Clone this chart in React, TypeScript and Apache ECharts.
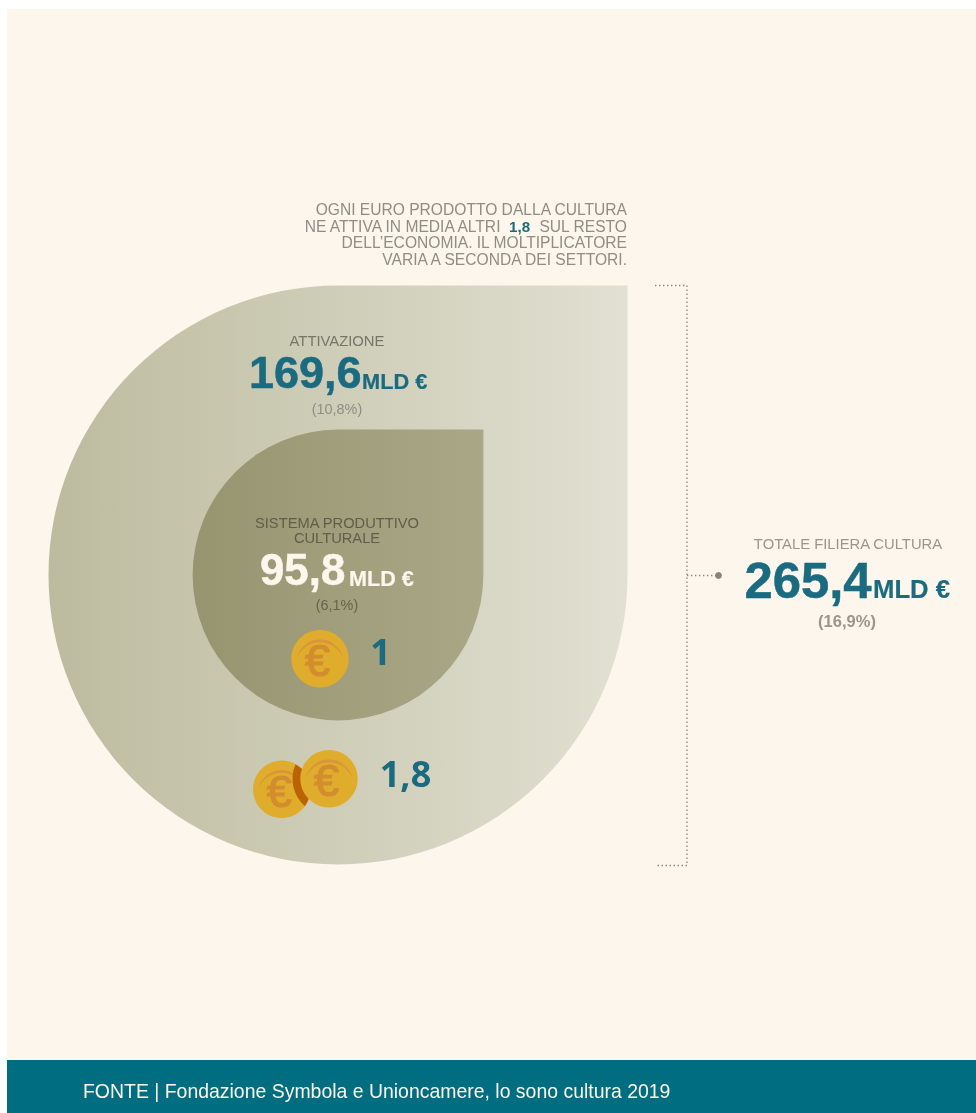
import React, { useEffect, useRef } from "react";
import * as echarts from "echarts";

const drops = ["Totale filiera cultura", "Sistema produttivo culturale"];
const dropValues = [265.4, 95.8];
const dropGradients = [["#bdbb9e", "#e1e0d2"], ["#979570", "#aaa787"]];

const attivazioneValue = "169,6";
const attivazioneShare = "(10,8%)";
const sistemaValue = "95,8";
const sistemaShare = "(6,1%)";
const totaleValue = "265,4";
const totaleShare = "(16,9%)";
const unit = "MLD €";
const multiplierOne = "1";
const multiplierTwo = "1,8";
const introLines = [
  "OGNI EURO PRODOTTO DALLA CULTURA",
  "{a|NE ATTIVA IN MEDIA ALTRI  }{b|1,8}{a|  SUL RESTO}",
  "DELL’ECONOMIA. IL MOLTIPLICATORE",
  "VARIA A SECONDA DEI SETTORI.",
];
const source = "FONTE | Fondazione Symbola e Unioncamere, lo sono cultura 2019";

const W = 976, H = 1113;
const CX = 338, CY = 575;
const TEAL = "#1a6a80";
const SANS = "'Liberation Sans', Arial, sans-serif";

// drop size scale: power scale fitted on the picture
const dropRadius = (v: number) => 289.5 * Math.pow(v / 265.4, 0.676);

const R = 28.7;
const backCoin = { x: 281.7, y: 789.3 };
const frontCoin = { x: 329, y: 778.7 };
const singleCoin = { x: 320, y: 658.7 };

function lensPath() {
  const dx = backCoin.x - frontCoin.x, dy = backCoin.y - frontCoin.y;
  const d = Math.hypot(dx, dy), ring = 36.5;
  const a = (d * d + ring * ring - R * R) / (2 * d);
  const h = Math.sqrt(ring * ring - a * a);
  const mx = frontCoin.x + (a * dx) / d, my = frontCoin.y + (a * dy) / d;
  const p1 = { x: mx - (h * dy) / d, y: my + (h * dx) / d };
  const p2 = { x: mx + (h * dy) / d, y: my - (h * dx) / d };
  const top = p1.y < p2.y ? p1 : p2, bot = p1.y < p2.y ? p2 : p1;
  return `M${top.x} ${top.y}A${ring} ${ring} 0 0 0 ${bot.x} ${bot.y}A${R} ${R} 0 0 0 ${top.x} ${top.y}Z`;
}
echarts.graphic.registerShape("coinLens", echarts.graphic.extendPath(lensPath() as any, {}) as any);
echarts.graphic.registerShape(
  "coinShine",
  echarts.graphic.extendPath("M-23.5 0A24 24 0 0 1 23.5 0A25 25 0 0 0 -23.5 0Z" as any, {}) as any
);

const txt = (text: string, x: number, y: number, fontSize: number, fill: string, opts: any = {}) => ({
  type: "text", z: 20, x, y,
  style: {
    text, fontSize, fill, fontFamily: SANS, fontWeight: opts.bold ? "bold" : "normal",
    textAlign: opts.align || "center", textVerticalAlign: "middle", verticalAlign: "middle",
    ...(opts.heavy ? { stroke: fill, lineWidth: opts.heavy } : {}),
    ...(opts.style || {}),
  },
});

const coin = (c: { x: number; y: number }, bump = 0) => ({
  type: "group", x: c.x, y: c.y, z: 15 + bump,
  children: [
    { type: "circle", z: 15 + bump, shape: { cx: 0, cy: 0, r: R }, style: { fill: "#e0ac2c" } },
    { type: "coinShine", z: 16 + bump, x: 0, y: 0, style: { fill: "#d8953a" } },
    {
      type: "text", z: 16 + bump, x: -2.5, y: 2,
      style: {
        text: "€", fontSize: 45, fontFamily: SANS, fill: "#d28d2f", stroke: "#d28d2f", lineWidth: 1.2,
        textAlign: "center", textVerticalAlign: "middle", verticalAlign: "middle",
      },
    },
  ],
});

const dot = "#8c887c";
const bracket = (pts: number[][]) => ({
  type: "polyline", z: 5, shape: { points: pts },
  style: { stroke: dot, lineWidth: 1.3, lineDash: [1.4, 2.6], fill: "none" },
});

function buildOption() {
  return {
    animation: false,
    series: [
      {
        type: "custom",
        coordinateSystem: "none",
        silent: true,
        z: 2,
        data: dropValues.map((v, i) => ({ name: drops[i], value: [v] })),
        renderItem: (params: any, api: any) => {
          const r = dropRadius(api.value(0));
          const g = dropGradients[params.dataIndex];
          const d = `M${CX + r} ${CY - r}L${CX + r} ${CY}A${r} ${r} 0 1 1 ${CX} ${CY - r}Z`;
          return {
            type: "path",
            shape: { pathData: d, x: CX - r, y: CY - r, width: 2 * r, height: 2 * r, layout: "cover" },
            style: { fill: new echarts.graphic.LinearGradient(0, 0, 1, 0, [{ offset: 0, color: g[0] }, { offset: 1, color: g[1] }]) },
          };
        },
      },
    ],
    graphic: {
      elements: [
        { type: "rect", z: -10, shape: { x: 0, y: 0, width: W, height: H }, style: { fill: "#ffffff" } },
        { type: "rect", z: -9, shape: { x: 7, y: 9, width: W - 7, height: 1051 }, style: { fill: "#fdf6ec" } },
        { type: "rect", z: -8, shape: { x: 7, y: 1060, width: W - 7, height: 53 }, style: { fill: "#006d80" } },
        txt(source, 83, 1091, 19.45, "#fdf6ec", { align: "left" }),

        ...introLines.map((l, i) =>
          txt(l, 627, 209.5 + i * 16.5, 15.6, "#8f8d84", {
            align: "right",
            style: {
              rich: {
                a: { fontSize: 15.6, fill: "#8f8d84", color: "#8f8d84", fontFamily: SANS },
                b: { fontSize: 15.2, fill: TEAL, color: TEAL, fontWeight: "bold", fontFamily: SANS },
              },
            },
          })
        ),

        txt("ATTIVAZIONE", 337, 341, 14.8, "#77756a"),
        txt(attivazioneValue, 249, 372.5, 45, TEAL, { align: "left", bold: true, heavy: 0.5 }),
        txt(unit, 362, 381.5, 21.8, TEAL, { align: "left", bold: true, heavy: 0.2 }),
        txt(attivazioneShare, 337, 409, 14.4, "#8f8d84"),

        txt("SISTEMA PRODUTTIVO", 337, 523, 14.7, "#5f5d4b"),
        txt("CULTURALE", 337, 538, 14.7, "#5f5d4b"),
        txt(sistemaValue, 260, 569, 43.8, "#fdf6ec", { align: "left", bold: true, heavy: 0.5 }),
        txt(unit, 349, 578.5, 21.6, "#fdf6ec", { align: "left", bold: true, heavy: 0.2 }),
        txt(sistemaShare, 337, 605, 14.4, "#66644f"),

        bracket([[655, 285.5], [687, 285.5], [687, 865.5], [657, 865.5]]),
        bracket([[687, 575.5], [716, 575.5]]),
        { type: "circle", z: 6, shape: { cx: 718.5, cy: 575.5, r: 3.4 }, style: { fill: "#8a857b" } },

        txt("TOTALE FILIERA CULTURA", 848, 544, 14.8, "#99968c"),
        txt(totaleValue, 744.5, 580, 50.8, TEAL, { align: "left", bold: true, heavy: 0.5 }),
        txt(unit, 873, 589, 25.7, TEAL, { align: "left", bold: true, heavy: 0.2 }),
        txt(totaleShare, 847, 621, 16.5, "#99968c", { bold: true }),

        coin(singleCoin),
        txt(multiplierOne, 380.5, 651.5, 36, TEAL, { bold: true, style: { fontFamily: "'Open Sans', sans-serif" } }),
        coin(backCoin),
        { type: "coinLens", z: 17, x: 0, y: 0, style: { fill: "#bb6205" } },
        coin(frontCoin, 3),
        txt(multiplierTwo, 405.5, 773.5, 36, TEAL, { bold: true, style: { fontFamily: "'Open Sans', sans-serif" } }),
      ],
    },
  };
}

export default function App() {
  const ref = useRef<HTMLDivElement>(null);
  useEffect(() => {
    const chart = echarts.init(ref.current!, undefined, { renderer: "svg" });
    chart.setOption(buildOption() as any);
    return () => chart.dispose();
  }, []);
  return <div ref={ref} style={{ position: "fixed", left: 0, top: 0, width: W, height: H }} />;
}
